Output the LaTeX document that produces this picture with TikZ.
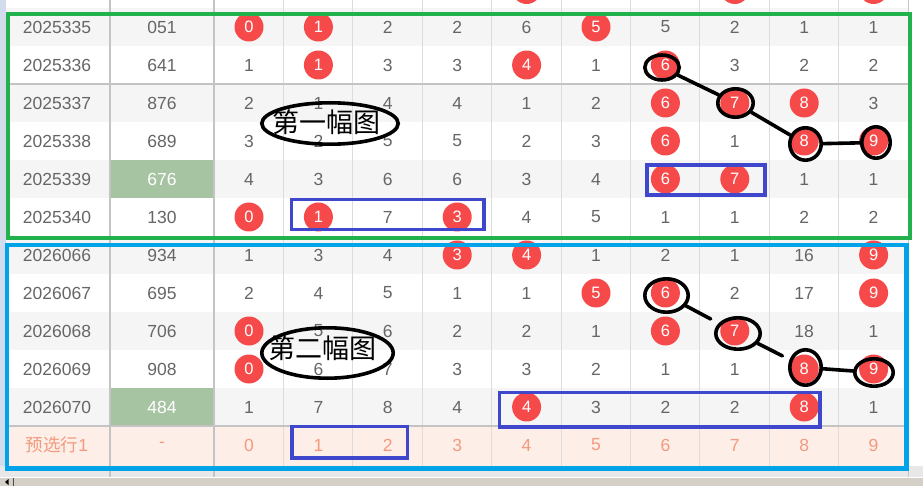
\documentclass[tikz,border=0pt]{standalone}
\usepackage{fontspec}
\setmainfont{Liberation Sans}
\newfontfamily\cjk{Noto Sans CJK SC}
\usetikzlibrary{shapes.geometric}
\definecolor{txtgray}{HTML}{666666}
\definecolor{ballred}{HTML}{F64A4A}
\definecolor{stripe}{HTML}{F5F5F5}
\definecolor{hitgreen}{HTML}{A7C4A2}
\definecolor{prerow}{HTML}{FDEEE7}
\definecolor{pretxt}{HTML}{F39A7E}
\definecolor{frameg}{HTML}{22B14C}
\definecolor{framec}{HTML}{00A2E8}
\definecolor{framei}{HTML}{3F48CC}
\definecolor{gridthick}{HTML}{C4C4C4}
\definecolor{gridthin}{HTML}{DCDCDC}
\definecolor{sideblue}{HTML}{D3DCEC}
\definecolor{barbg}{HTML}{D4D0C8}
\definecolor{underbg}{HTML}{E8E8E8}
\tikzset{
  cell/.style={font=\fontsize{17.5}{17.5}\selectfont, text=txtgray, inner sep=0pt},
  precell/.style={font=\fontsize{17.5}{17.5}\selectfont, text=pretxt, inner sep=0pt},
  ball/.style={circle, fill=ballred, minimum size=29pt, inner sep=0pt, text=white,
    font=\fontsize{16.5}{16.5}\selectfont},
  ring/.style={ellipse, draw=black, line width=3.6pt, inner sep=0pt},
  link/.style={draw=black, line width=3.6pt, line cap=round},
  pick/.style={draw=framei, line width=3.5pt},
  note/.style={font=\cjk\fontsize{27}{27}\selectfont, text=black, inner sep=0pt},
}
\newcommand\tabrow[4]{%
  \node[cell] (id#1) at (57,{27+38*#1}) {#2};
  \node[cell] (num#1) at (162,{27+38*#1}) {#3};
  \foreach \v/\f [count=\i from 0] in {#4} {
    \ifnum\f=1
      \node[ball] (d#1-\i) at ({249+69.4*\i},{27+38*#1}) {\v};
    \else
      \node[cell] (d#1-\i) at ({249+69.4*\i},{27+38*#1}) {\v};
    \fi
  }%
}
\begin{document}
\begin{tikzpicture}[x=1pt,y=-1pt]
\useasboundingbox (0,0) rectangle (923,486);
\clip (0,0) rectangle (923,486);
\fill[white] (0,0) rectangle (923,486);
% background stripes
\foreach \k in {0,2,4,6,8,10} \fill[stripe] (6,{8+38*\k}) rectangle (908,{46+38*\k});
\fill[prerow] (6,426) rectangle (908,466);
\fill[hitgreen] (110,160) rectangle (214,198);
\fill[hitgreen] (110,388) rectangle (214,426);
% side strip and bottom bars
\fill[sideblue] (0,0) rectangle (6,466);
\fill[underbg] (0,466) rectangle (923,477);
\fill[white] (0,477) rectangle (923,478);
\fill[barbg] (0,478) rectangle (923,486);
\draw[black!70, line width=1pt] (13.5,478) -- (13.5,486);
\fill[black] (5,482) -- (8.5,479) -- (8.5,485) -- cycle;
% grid
\foreach \i in {1,...,9} \draw[gridthin, line width=1pt] ({214+69.4*\i},0) -- ({214+69.4*\i},466);
\draw[gridthin!90!black, line width=1pt] (908,0) -- (908,477);
\draw[gridthick, line width=2pt] (110,0) -- (110,477);
\draw[gridthick, line width=2pt] (214,0) -- (214,477);
\draw[gridthick, line width=1.2pt] (6,84) -- (908,84);
\draw[gridthick, line width=1.2pt] (6,426) -- (908,426);
% top partial row
\node[ball] (top4) at ({249+69.4*4},-10.5) {};
\node[ball] (top7) at ({249+69.4*7},-10.5) {};
\node[ball] (top9) at ({249+69.4*9},-10.5) {};
% rows
\tabrow{0}{2025335}{051}{0/1,1/1,2/0,2/0,6/0,5/1,5/0,2/0,1/0,1/0}
\tabrow{1}{2025336}{641}{1/0,1/1,3/0,3/0,4/1,1/0,6/1,3/0,2/0,2/0}
\tabrow{2}{2025337}{876}{2/0,1/0,4/0,4/0,1/0,2/0,6/1,7/1,8/1,3/0}
\tabrow{3}{2025338}{689}{3/0,2/0,5/0,5/0,2/0,3/0,6/1,1/0,8/1,9/1}
\tabrow{4}{2025339}{\textcolor{white}{676}}{4/0,3/0,6/0,6/0,3/0,4/0,6/1,7/1,1/0,1/0}
\tabrow{5}{2025340}{130}{0/1,1/1,7/0,3/1,4/0,5/0,1/0,1/0,2/0,2/0}
\tabrow{6}{2026066}{934}{1/0,3/0,4/0,3/1,4/1,1/0,2/0,1/0,16/0,9/1}
\tabrow{7}{2026067}{695}{2/0,4/0,5/0,1/0,1/0,5/1,6/1,2/0,17/0,9/1}
\tabrow{8}{2026068}{706}{0/1,5/0,6/0,2/0,2/0,1/0,6/1,7/1,18/0,1/0}
\tabrow{9}{2026069}{908}{0/1,6/0,7/0,3/0,3/0,2/0,1/0,1/0,8/1,9/1}
\tabrow{10}{2026070}{\textcolor{white}{484}}{1/0,7/0,8/0,4/0,4/1,3/0,2/0,2/0,8/1,1/0}
% preselect row
\node[precell] (id11) at (57,445) {{\cjk 预选行}1};
\node[precell] (num11) at (162,445) {-};
\foreach \i in {0,...,9} \node[precell] (p\i) at ({249+69.4*\i},445) {\i};
% blue selection boxes
\draw[pick] (291.5,199.5) rectangle (484,229.5);
\draw[pick] (647,165) rectangle (765,195);
\draw[pick] (499.7,392.5) rectangle (820,427);
\draw[pick] (292,426.5) rectangle (407.7,458);
% hand drawn notes
\node[ring, minimum width=136.4pt, minimum height=41.4pt] (e1) at (330,123.5) {};
\node[note] (t1) at (326,122) {第一幅图};
\node[ring, minimum width=131.4pt, minimum height=50.4pt] (e2) at (327.5,353) {};
\node[note] (t2) at (322,348.5) {第二幅图};
% rings first picture
\node[ring, minimum width=34.4pt, minimum height=25pt] (a1) at (662,67.5) {};
\node[ring, minimum width=35.4pt, minimum height=28.4pt] (a2) at (735.5,103) {};
\node[ring, minimum width=31.4pt, minimum height=32.4pt] (a3) at (805.5,144) {};
\node[ring, minimum width=28.4pt, minimum height=31.4pt] (a4) at (876,142.5) {};
\draw[link] (a1) -- (a2);
\draw[link] (a2) -- (a3);
\draw[link] (a3) -- (a4);
% rings second picture
\node[ring, minimum width=43.4pt, minimum height=33.4pt] (b1) at (666.5,295.5) {};
\node[ring, minimum width=44.4pt, minimum height=31.4pt] (b2) at (738,333.5) {};
\node[ring, minimum width=31.4pt, minimum height=35.4pt] (b3) at (805.5,367.5) {};
\node[ring, minimum width=38.4pt, minimum height=27.4pt] (b4) at (874,372.5) {};
\draw[link, shorten >=9pt] (b1) -- (b2);
\draw[link, shorten >=8pt] (b2) -- (b3);
\draw[link] (b3) -- (b4);
% frames
\draw[frameg, line width=4pt] (8.2,13.7) rectangle (910.3,237.7);
\draw[framec, line width=4.5pt] (7,245) rectangle (906.7,468.3);
\end{tikzpicture}
\end{document}
